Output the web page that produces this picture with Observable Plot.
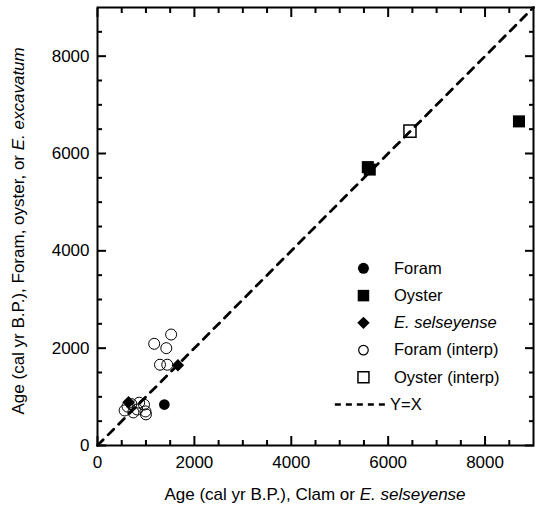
<!DOCTYPE html>
<html><head><meta charset="utf-8">
<script src="https://cdn.jsdelivr.net/npm/d3@7"></script>
<script src="https://cdn.jsdelivr.net/npm/@observablehq/plot@0.6"></script>
<style>body{margin:0;background:#fff} svg{display:block}</style>
</head><body><div id="chart"></div>
<script>
// ---- data (cal yr B.P.) ----
const foram = [[1380, 840]];
const oyster = [[5580, 5720], [5620, 5670], [8700, 6660]];
const selseyense = [[640, 890], [1660, 1650]];
const foramInterp = [[1520, 2280], [1170, 2090], [1420, 2000], [1290, 1660], [1440, 1660],
  [560, 720], [700, 850], [820, 740], [960, 840], [990, 700], [1000, 640], [740, 680], [860, 880], [620, 800]];
const oysterInterp = [[6450, 6460]];
const identityLine = [0, 9000];
const majorTicks = [0, 2000, 4000, 6000, 8000];
const minorTicks = [500, 1000, 1500, 2500, 3000, 3500, 4500, 5000, 5500, 6500, 7000, 7500, 8500];
const legendLabels = ["Foram", "Oyster", "E. selseyense", "Foram (interp)", "Oyster (interp)", "Y=X"];
const xTitle = ["Age (cal yr B.P.), Clam or ", "E. selseyense"];
const yTitle = ["Age (cal yr B.P.), Foram, oyster, or ", "E. excavatum"];

// ---- legend layout (data units) ----
const legendTop = 3640, legendStep = 560, legendMarkX = 5490, legendTextX = 6120;
const rows = legendLabels.map((label, i) => ({label, i, y: legendTop - i * legendStep}));
const font = "'Liberation Sans', Arial, Helvetica, sans-serif";
const fmt = d3.format("d");

const tickSet = (anchor) => {
  const isX = anchor === "top" || anchor === "bottom";
  const ax = isX ? Plot.axisX : Plot.axisY;
  return [
    ax(majorTicks, {anchor, tickSize: -9, strokeWidth: 2, fill: "none", label: null}),
    ax(minorTicks, {anchor, tickSize: -5, strokeWidth: 2, fill: "none", label: null})
  ];
};

const chart = Plot.plot({
  width: 541,
  height: 506,
  marginLeft: 97,
  marginRight: 8,
  marginTop: 7,
  marginBottom: 61,
  style: {fontFamily: font, fontSize: "17px", color: "#000", background: "#fff"},
  x: {domain: [0, 9000]},
  y: {domain: [0, 9000]},
  marks: [
    Plot.line(identityLine.map(v => [v, v]), {x: d => d[0], y: d => d[1], stroke: "#000", strokeWidth: 2.8, strokeDasharray: "8,7"}),
    Plot.dot(foramInterp, {x: d => d[0], y: d => d[1], r: 5.5, stroke: "#000", strokeWidth: 1, fill: "none"}),
    Plot.dot(oysterInterp, {x: d => d[0], y: d => d[1], r: 6.8, symbol: "square", stroke: "#000", strokeWidth: 1.5, fill: "none"}),
    Plot.dot(foram, {x: d => d[0], y: d => d[1], r: 5.3, fill: "#000", stroke: "none"}),
    Plot.dot(oyster, {x: d => d[0], y: d => d[1], r: 6.8, symbol: "square", fill: "#000", stroke: "none"}),
    Plot.dot(selseyense, {x: d => d[0], y: d => d[1], r: 5.6, symbol: "diamond2", fill: "#000", stroke: "none"}),
    // legend
    Plot.dot(rows.filter(d => d.i === 0), {x: () => legendMarkX, y: "y", r: 5.5, fill: "#000", stroke: "none"}),
    Plot.dot(rows.filter(d => d.i === 1), {x: () => legendMarkX, y: "y", r: 6.5, symbol: "square", fill: "#000", stroke: "none"}),
    Plot.dot(rows.filter(d => d.i === 2), {x: () => legendMarkX, y: "y", r: 5.6, symbol: "diamond2", fill: "#000", stroke: "none"}),
    Plot.dot(rows.filter(d => d.i === 3), {x: () => legendMarkX, y: "y", r: 4.8, stroke: "#000", strokeWidth: 1.2, fill: "none"}),
    Plot.dot(rows.filter(d => d.i === 4), {x: () => legendMarkX, y: "y", r: 6.2, symbol: "square", stroke: "#000", strokeWidth: 1.5, fill: "none"}),
    Plot.ruleY(rows.filter(d => d.i === 5), {y: "y", x1: () => 4910, x2: () => 6000, stroke: "#000", strokeWidth: 2.5, strokeDasharray: "6,5"}),
    Plot.text(rows.filter(d => d.i !== 2 && d.i !== 5), {x: () => legendTextX, y: "y", text: "label", textAnchor: "start", fill: "#000", fontSize: 16.5}),
    Plot.text(rows.filter(d => d.i === 2), {x: () => legendTextX, y: "y", text: "label", textAnchor: "start", fill: "#000", fontSize: 16.5, fontStyle: "italic"}),
    Plot.text(rows.filter(d => d.i === 5), {x: () => 6040, y: "y", text: "label", textAnchor: "start", fill: "#000", fontSize: 16.5}),
    // axes
    Plot.axisX(majorTicks, {anchor: "bottom", tickSize: 0, tickPadding: 10, tickFormat: fmt, label: null, fill: "#000"}),
    Plot.axisY(majorTicks, {anchor: "left", tickSize: 0, tickPadding: 8, tickFormat: fmt, label: null, fill: "#000"}),
    ...tickSet("bottom"), ...tickSet("top"), ...tickSet("left"), ...tickSet("right"),
    Plot.frame({stroke: "#000", strokeWidth: 2})
  ]
});

document.getElementById("chart").appendChild(chart);

// axis titles with italic species names
const svg = d3.select(chart);
const sx = chart.scale("x"), sy = chart.scale("y");
const xt = svg.append("text")
  .attr("x", sx.apply(4500)).attr("y", 500)
  .attr("text-anchor", "middle").attr("fill", "#000")
  .style("font-family", font).style("font-size", "17px");
xt.append("tspan").text(xTitle[0]);
xt.append("tspan").attr("font-style", "italic").text(xTitle[1]);
const yt = svg.append("text")
  .attr("transform", `translate(24,${sy.apply(4400)}) rotate(-90)`)
  .attr("text-anchor", "middle").attr("fill", "#000")
  .style("font-family", font).style("font-size", "17px");
yt.append("tspan").text(yTitle[0]);
yt.append("tspan").attr("font-style", "italic").text(yTitle[1]);
</script>
</body></html>
